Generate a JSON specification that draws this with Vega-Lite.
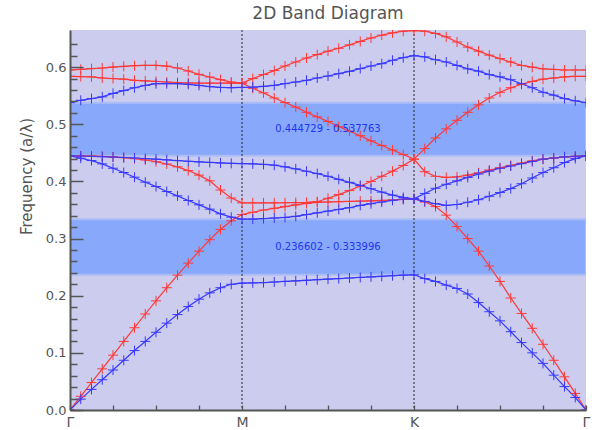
{
  "$schema": "https://vega.github.io/schema/vega-lite/v6.json",
  "width": 516,
  "height": 380,
  "autosize": {"type": "none"},
  "padding": {"left": 70, "top": 30, "right": 6, "bottom": 20},
  "background": "white",
  "title": {"text": "2D Band Diagram", "fontSize": 17, "fontWeight": "normal", "color": "#555555", "offset": 7, "anchor": "middle", "font": "DejaVu Sans"},
  "config": {"view": {"fill": "#cccdee", "stroke": null}, "font": "DejaVu Sans"},
  "resolve": {"axis": {"y": "independent"}},
  "datasets": {
    "bands": [
      {"k": 0, "te1": 0, "te2": 0.4447, "te3": 0.584, "te4": 0.595, "tm1": 0, "tm2": 0.4447, "tm3": 0.4447, "tm4": 0.5378},
      {"k": 1, "te1": 0.024, "te2": 0.4446, "te3": 0.5835, "te4": 0.5962, "tm1": 0.019, "tm2": 0.4406, "tm3": 0.4445, "tm4": 0.542},
      {"k": 2, "te1": 0.048, "te2": 0.4443, "te3": 0.583, "te4": 0.5974, "tm1": 0.036, "tm2": 0.4365, "tm3": 0.444, "tm4": 0.545},
      {"k": 3, "te1": 0.072, "te2": 0.4437, "te3": 0.581, "te4": 0.5985, "tm1": 0.053, "tm2": 0.4307, "tm3": 0.4434, "tm4": 0.548},
      {"k": 4, "te1": 0.096, "te2": 0.4428, "te3": 0.58, "te4": 0.6002, "tm1": 0.07, "tm2": 0.4231, "tm3": 0.4427, "tm4": 0.554},
      {"k": 5, "te1": 0.12, "te2": 0.4415, "te3": 0.579, "te4": 0.6014, "tm1": 0.087, "tm2": 0.4156, "tm3": 0.4419, "tm4": 0.559},
      {"k": 6, "te1": 0.144, "te2": 0.4398, "te3": 0.577, "te4": 0.6026, "tm1": 0.104, "tm2": 0.4074, "tm3": 0.441, "tm4": 0.564},
      {"k": 7, "te1": 0.168, "te2": 0.4375, "te3": 0.576, "te4": 0.6031, "tm1": 0.12, "tm2": 0.3987, "tm3": 0.44, "tm4": 0.568},
      {"k": 8, "te1": 0.191, "te2": 0.4345, "te3": 0.575, "te4": 0.6031, "tm1": 0.136, "tm2": 0.3911, "tm3": 0.4389, "tm4": 0.571},
      {"k": 9, "te1": 0.214, "te2": 0.4305, "te3": 0.574, "te4": 0.6019, "tm1": 0.152, "tm2": 0.3823, "tm3": 0.4377, "tm4": 0.571},
      {"k": 10, "te1": 0.236, "te2": 0.4255, "te3": 0.573, "te4": 0.5985, "tm1": 0.167, "tm2": 0.3748, "tm3": 0.4365, "tm4": 0.571},
      {"k": 11, "te1": 0.257, "te2": 0.419, "te3": 0.5725, "te4": 0.5932, "tm1": 0.181, "tm2": 0.3666, "tm3": 0.4353, "tm4": 0.57},
      {"k": 12, "te1": 0.278, "te2": 0.411, "te3": 0.572, "te4": 0.5874, "tm1": 0.194, "tm2": 0.359, "tm3": 0.4342, "tm4": 0.568},
      {"k": 13, "te1": 0.298, "te2": 0.401, "te3": 0.572, "te4": 0.5827, "tm1": 0.205, "tm2": 0.3515, "tm3": 0.4332, "tm4": 0.566},
      {"k": 14, "te1": 0.316, "te2": 0.385, "te3": 0.572, "te4": 0.5781, "tm1": 0.214, "tm2": 0.3433, "tm3": 0.4323, "tm4": 0.5645},
      {"k": 15, "te1": 0.331, "te2": 0.371, "te3": 0.572, "te4": 0.5739, "tm1": 0.22, "tm2": 0.3375, "tm3": 0.4316, "tm4": 0.564},
      {"k": 16, "te1": 0.342, "te2": 0.3625, "te3": 0.572, "te4": 0.5722, "tm1": 0.222, "tm2": 0.334, "tm3": 0.4312, "tm4": 0.5645},
      {"k": 17, "te1": 0.346, "te2": 0.3625, "te3": 0.563, "te4": 0.58, "tm1": 0.2225, "tm2": 0.3341, "tm3": 0.4308, "tm4": 0.565},
      {"k": 18, "te1": 0.35, "te2": 0.3625, "te3": 0.555, "te4": 0.587, "tm1": 0.223, "tm2": 0.335, "tm3": 0.4298, "tm4": 0.5664},
      {"k": 19, "te1": 0.353, "te2": 0.3625, "te3": 0.546, "te4": 0.594, "tm1": 0.224, "tm2": 0.336, "tm3": 0.4284, "tm4": 0.5682},
      {"k": 20, "te1": 0.356, "te2": 0.3627, "te3": 0.538, "te4": 0.602, "tm1": 0.225, "tm2": 0.337, "tm3": 0.4256, "tm4": 0.5711},
      {"k": 21, "te1": 0.359, "te2": 0.363, "te3": 0.53, "te4": 0.609, "tm1": 0.226, "tm2": 0.339, "tm3": 0.422, "tm4": 0.574},
      {"k": 22, "te1": 0.3615, "te2": 0.3632, "te3": 0.521, "te4": 0.616, "tm1": 0.227, "tm2": 0.342, "tm3": 0.4178, "tm4": 0.577},
      {"k": 23, "te1": 0.3635, "te2": 0.3645, "te3": 0.513, "te4": 0.622, "tm1": 0.228, "tm2": 0.345, "tm3": 0.4137, "tm4": 0.581},
      {"k": 24, "te1": 0.364, "te2": 0.3705, "te3": 0.505, "te4": 0.628, "tm1": 0.229, "tm2": 0.348, "tm3": 0.409, "tm4": 0.5845},
      {"k": 25, "te1": 0.3645, "te2": 0.377, "te3": 0.496, "te4": 0.633, "tm1": 0.23, "tm2": 0.351, "tm3": 0.4037, "tm4": 0.5886},
      {"k": 26, "te1": 0.365, "te2": 0.384, "te3": 0.488, "te4": 0.639, "tm1": 0.231, "tm2": 0.354, "tm3": 0.3984, "tm4": 0.5927},
      {"k": 27, "te1": 0.3655, "te2": 0.392, "te3": 0.48, "te4": 0.645, "tm1": 0.232, "tm2": 0.358, "tm3": 0.393, "tm4": 0.5974},
      {"k": 28, "te1": 0.366, "te2": 0.4, "te3": 0.471, "te4": 0.651, "tm1": 0.233, "tm2": 0.361, "tm3": 0.3872, "tm4": 0.602},
      {"k": 29, "te1": 0.3667, "te2": 0.409, "te3": 0.463, "te4": 0.656, "tm1": 0.234, "tm2": 0.364, "tm3": 0.3813, "tm4": 0.6061},
      {"k": 30, "te1": 0.3675, "te2": 0.418, "te3": 0.455, "te4": 0.66, "tm1": 0.235, "tm2": 0.367, "tm3": 0.376, "tm4": 0.612},
      {"k": 31, "te1": 0.3685, "te2": 0.428, "te3": 0.447, "te4": 0.663, "tm1": 0.236, "tm2": 0.369, "tm3": 0.372, "tm4": 0.6166},
      {"k": 32, "te1": 0.37, "te2": 0.439, "te3": 0.439, "te4": 0.664, "tm1": 0.2366, "tm2": 0.3695, "tm3": 0.3695, "tm4": 0.62},
      {"k": 33, "te1": 0.364, "te2": 0.417, "te3": 0.4575, "te4": 0.663, "tm1": 0.23, "tm2": 0.365, "tm3": 0.379, "tm4": 0.618},
      {"k": 34, "te1": 0.356, "te2": 0.409, "te3": 0.476, "te4": 0.659, "tm1": 0.225, "tm2": 0.361, "tm3": 0.388, "tm4": 0.613},
      {"k": 35, "te1": 0.341, "te2": 0.407, "te3": 0.492, "te4": 0.653, "tm1": 0.2185, "tm2": 0.358, "tm3": 0.395, "tm4": 0.609},
      {"k": 36, "te1": 0.321, "te2": 0.408, "te3": 0.507, "te4": 0.644, "tm1": 0.2127, "tm2": 0.3596, "tm3": 0.401, "tm4": 0.603},
      {"k": 37, "te1": 0.3, "te2": 0.411, "te3": 0.521, "te4": 0.635, "tm1": 0.203, "tm2": 0.3636, "tm3": 0.407, "tm4": 0.597},
      {"k": 38, "te1": 0.278, "te2": 0.415, "te3": 0.534, "te4": 0.628, "tm1": 0.188, "tm2": 0.368, "tm3": 0.413, "tm4": 0.593},
      {"k": 39, "te1": 0.252, "te2": 0.42, "te3": 0.546, "te4": 0.621, "tm1": 0.172, "tm2": 0.374, "tm3": 0.418, "tm4": 0.587},
      {"k": 40, "te1": 0.225, "te2": 0.424, "te3": 0.556, "te4": 0.615, "tm1": 0.156, "tm2": 0.3805, "tm3": 0.423, "tm4": 0.583},
      {"k": 41, "te1": 0.196, "te2": 0.428, "te3": 0.564, "te4": 0.609, "tm1": 0.137, "tm2": 0.3875, "tm3": 0.427, "tm4": 0.578},
      {"k": 42, "te1": 0.169, "te2": 0.432, "te3": 0.57, "te4": 0.603, "tm1": 0.118, "tm2": 0.396, "tm3": 0.431, "tm4": 0.571},
      {"k": 43, "te1": 0.143, "te2": 0.436, "te3": 0.575, "te4": 0.6, "tm1": 0.1, "tm2": 0.406, "tm3": 0.435, "tm4": 0.564},
      {"k": 44, "te1": 0.115, "te2": 0.439, "te3": 0.579, "te4": 0.597, "tm1": 0.0816, "tm2": 0.4155, "tm3": 0.439, "tm4": 0.556},
      {"k": 45, "te1": 0.087, "te2": 0.441, "te3": 0.581, "te4": 0.596, "tm1": 0.061, "tm2": 0.424, "tm3": 0.441, "tm4": 0.551},
      {"k": 46, "te1": 0.058, "te2": 0.443, "te3": 0.583, "te4": 0.595, "tm1": 0.041, "tm2": 0.433, "tm3": 0.443, "tm4": 0.545},
      {"k": 47, "te1": 0.029, "te2": 0.444, "te3": 0.584, "te4": 0.595, "tm1": 0.022, "tm2": 0.44, "tm3": 0.444, "tm4": 0.541},
      {"k": 48, "te1": 0, "te2": 0.4447, "te3": 0.584, "te4": 0.595, "tm1": 0, "tm2": 0.4447, "tm3": 0.4447, "tm4": 0.5378}
    ],
    "gaps": [
      {"lo": 0.236602, "hi": 0.333996, "label": "0.236602 - 0.333996"},
      {"lo": 0.444729, "hi": 0.537763, "label": "0.444729 - 0.537763"}
    ],
    "symlines": [{"k": 16}, {"k": 32}]
  },
  "layer": [
    {
      "data": {"name": "gaps"},
      "mark": {"type": "rect", "fill": "#88a9fb", "stroke": "#aabdf6", "strokeWidth": 2, "clip": true},
      "encoding": {
        "y": {"field": "lo", "type": "quantitative", "scale": {"domain": [0, 0.665], "nice": false, "zero": false}, "axis": null},
        "y2": {"field": "hi"}
      }
    },
    {
      "data": {"name": "symlines"},
      "mark": {"type": "rule", "color": "#222222", "strokeDash": [2, 2], "strokeWidth": 1},
      "encoding": {
        "x": {"field": "k", "type": "quantitative", "scale": {"domain": [0, 48], "nice": false, "zero": false},
          "axis": {
            "title": null,
            "values": [0,1,2,3,4,5,6,7,8,9,10,11,12,13,14,15,16,17,18,19,20,21,22,23,24,25,26,27,28,29,30,31,32,33,34,35,36,37,38,39,40,41,42,43,44,45,46,47,48],
            "labelExpr": "datum.value == 16 ? 'M' : datum.value == 32 ? 'K' : (datum.value == 0 || datum.value == 48) ? 'Γ' : ''",
            "labelOverlap": false, "labelFlush": false,
            "tickSize": -5, "tickColor": "#555555", "tickWidth": 1.3,
            "domainColor": "#555555", "domainWidth": 2,
            "labelFontSize": 14, "labelColor": "#555555", "labelPadding": 10,
            "grid": false, "zindex": 1
          }
        }
      }
    },
    {
      "data": {"name": "bands"},
      "transform": [{"fold": ["te1", "te2", "te3", "te4", "tm1", "tm2", "tm3", "tm4"], "as": ["band", "freq"]}],
      "mark": {"type": "line", "strokeWidth": 1.2, "clip": true},
      "encoding": {
        "x": {"field": "k", "type": "quantitative"},
        "y": {"field": "freq", "type": "quantitative", "scale": {"domain": [0, 0.665], "nice": false, "zero": false},
          "axis": {
            "orient": "left",
            "title": "Frequency (a/λ)",
            "titleFontSize": 15, "titleFontWeight": "normal", "titleColor": "#555555",
            "titleX": -44, "titleY": 146, "titleAngle": -90, "titleAlign": "center", "titleBaseline": "middle",
            "values": [0, 0.1, 0.2, 0.3, 0.4, 0.5, 0.6],
            "format": ".1f",
            "tickSize": -13, "tickColor": "#555555", "tickWidth": 1.5,
            "domainColor": "#555555", "domainWidth": 2,
            "labelFontSize": 13, "labelColor": "#555555", "labelPadding": 17,
            "labelOverlap": false, "labelFlush": false,
            "grid": false, "zindex": 1
          }
        },
        "color": {"field": "band", "type": "nominal", "legend": null,
          "scale": {"domain": ["te1", "te2", "te3", "te4", "tm1", "tm2", "tm3", "tm4"],
            "range": ["#ff3838", "#ff3838", "#ff3838", "#ff3838", "#3838ff", "#3838ff", "#3838ff", "#3838ff"]}},
        "detail": {"field": "band"}
      }
    },
    {
      "data": {"name": "bands"},
      "transform": [{"fold": ["te1", "te2", "te3", "te4", "tm1", "tm2", "tm3", "tm4"], "as": ["band", "freq"]}],
      "mark": {"type": "point", "shape": "M-1,0H1M0,-1V1", "filled": false, "size": 100, "strokeWidth": 1, "opacity": 1, "clip": true},
      "encoding": {
        "x": {"field": "k", "type": "quantitative"},
        "y": {"field": "freq", "type": "quantitative",
          "axis": {
            "orient": "left",
            "title": null,
            "values": [0.02,0.04,0.06,0.08,0.12,0.14,0.16,0.18,0.22,0.24,0.26,0.28,0.32,0.34,0.36,0.38,0.42,0.44,0.46,0.48,0.52,0.54,0.56,0.58,0.62,0.64],
            "labels": false, "domain": false,
            "tickSize": -7, "tickColor": "#555555", "tickWidth": 1.5,
            "grid": false, "zindex": 1
          }
        },
        "color": {"field": "band", "type": "nominal", "legend": null}
      }
    },
    {
      "data": {"name": "gaps"},
      "transform": [{"calculate": "(datum.lo + datum.hi) / 2", "as": "mid"}],
      "mark": {"type": "text", "color": "#1f35f0", "fontSize": 10, "align": "center", "baseline": "middle"},
      "encoding": {
        "x": {"datum": 24, "type": "quantitative"},
        "y": {"field": "mid", "type": "quantitative", "axis": null},
        "text": {"field": "label"}
      }
    },
    {
      "mark": {"type": "rule", "color": "#555555", "strokeWidth": 2},
      "encoding": {"x": {"datum": 48, "type": "quantitative"}}
    }
  ]
}
